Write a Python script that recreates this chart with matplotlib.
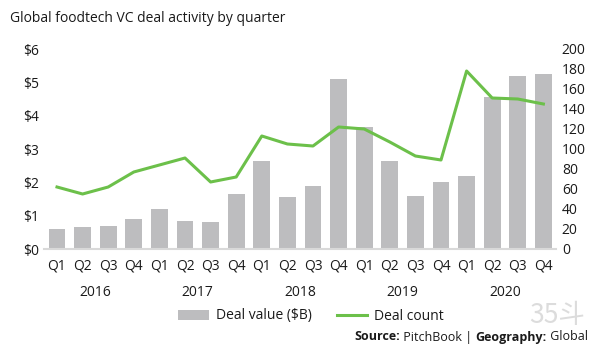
import matplotlib
matplotlib.use("Agg")
import matplotlib.pyplot as plt
from matplotlib.patches import Patch
from matplotlib.lines import Line2D

quarters = ["Q1", "Q2", "Q3", "Q4"] * 5
years = ["2016", "2017", "2018", "2019", "2020"]
deal_value = [0.6, 0.66, 0.7, 0.9, 1.2, 0.85, 0.8, 1.65, 2.65, 1.55, 1.9, 5.1,
              3.65, 2.65, 1.6, 2.0, 2.2, 4.55, 5.2, 5.25]
deal_count = [62, 55, 62, 77, 84, 91, 67, 72, 113, 105, 103, 122,
              120, 107, 93, 89, 178, 151, 150, 145]
left_ticks = [0, 1, 2, 3, 4, 5, 6]
right_ticks = list(range(0, 201, 20))

plt.rcParams['font.family'] = ['Open Sans', 'DejaVu Sans']
BAR = "#bdbdbf"
GREEN = "#6cc04a"
TXT = "#1a1a1a"

fig = plt.figure(figsize=(5.97, 3.52), dpi=100)
ax = fig.add_axes([44.2/597, 1-249/352, 512/597, 200/352])
x = list(range(len(deal_value)))
ax.bar(x, deal_value, width=0.66, color=BAR, zorder=2)
ax.set_xlim(-0.5, 19.5)
ax.set_ylim(0, 6)
ax.set_yticks(left_ticks)
ax.set_yticklabels([f"${v}" for v in left_ticks], fontsize=10, color=TXT)
ax.set_xticks(x)
ax.set_xticklabels(quarters, fontsize=10, color=TXT)
ax.tick_params(axis='x', length=0, pad=7)
ax.tick_params(axis='y', length=0, pad=4)
for s in ["top", "right", "left"]:
    ax.spines[s].set_visible(False)
ax.spines["bottom"].set_color("#d9d9d9")
ax.spines["bottom"].set_linewidth(1.5)

ax2 = ax.twinx()
ax2.plot(x, deal_count, color=GREEN, lw=2.2, zorder=3)
ax2.set_ylim(0, 200)
ax2.set_yticks(right_ticks)
ax2.set_yticklabels([str(v) for v in right_ticks], fontsize=10, color=TXT)
ax2.tick_params(axis='y', length=0, pad=4)
for s in ["top", "right", "left", "bottom"]:
    ax2.spines[s].set_visible(False)

for i, yr in enumerate(years):
    ax.text(i*4 + 1.5, -0.18, yr, transform=ax.get_xaxis_transform(),
            ha='center', va='top', fontsize=10, color=TXT)

fig.text(10/597, 1-18/352, "Global foodtech VC deal activity by quarter",
         fontsize=10, color=TXT, va='center', ha='left')

handles = [Patch(facecolor=BAR, edgecolor='none', label="Deal value ($B)"),
           Line2D([0], [0], color=GREEN, lw=2.2, label="Deal count")]
fig.legend(handles=handles, loc='center', bbox_to_anchor=(311/597, 1-316/352),
           ncol=2, frameon=False, fontsize=10, handlelength=2.2, handleheight=0.7,
           columnspacing=1.8, handletextpad=0.5, labelcolor=TXT)

fig.text(585/597, 1-329/352, "35斗", fontsize=19, color="#dcdcdc",
         ha='right', va='bottom', family=['Noto Sans CJK SC', 'DejaVu Sans'])

# Source line, built right-to-left with mixed weights
renderer = fig.canvas.get_renderer()
parts = [("Source:", "bold"), (" PitchBook | ", "normal"),
         ("Geography:", "bold"), (" Global", "normal")]
xr = 588
ypos = 1 - 337/352
for txt, w in reversed(parts):
    t = fig.text(xr/597, ypos, txt, fontsize=9, color=TXT, ha='right',
                 va='center', fontweight=w)
    bb = t.get_window_extent(renderer=renderer)
    xr = xr - bb.width

fig.savefig("out.png", dpi=100)
